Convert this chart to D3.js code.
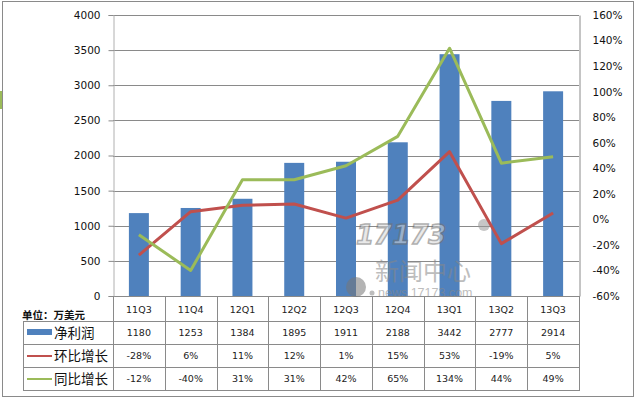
<!DOCTYPE html>
<html><head><meta charset="utf-8">
<script src="https://cdn.jsdelivr.net/npm/d3@7"></script>
<style>body{margin:0;background:#fff}svg{display:block}</style>
</head><body>
<svg id="c" width="637" height="399"></svg>
<script>
const categories = ["11Q3","11Q4","12Q1","12Q2","12Q3","12Q4","13Q1","13Q2","13Q3"];
const netProfit = [1180,1253,1384,1895,1911,2188,3442,2777,2914];
const qoq = [-28,6,11,12,1,15,53,-19,5];
const yoy = [-12,-40,31,31,42,65,134,44,49];
const leftTicks = [0,500,1000,1500,2000,2500,3000,3500,4000];
const rightTicks = [-60,-40,-20,0,20,40,60,80,100,120,140,160];
const seriesNames = ["净利润","环比增长","同比增长"];
const unitLabel = "单位：万美元";

const svg = d3.select("#c");
const L = 113, R = 579, T = 15, B = 296;
const num = "'DejaVu Sans', Verdana, sans-serif";
const cjk = "'Noto Sans CJK SC', sans-serif";
const grid = "#8a8a8a";

// outer border
svg.append("rect").attr("x",2.5).attr("y",1.5).attr("width",631).attr("height",395)
  .attr("fill","none").attr("stroke","#8a8a8a").attr("stroke-width",1);
svg.append("rect").attr("x",0).attr("y",91).attr("width",2).attr("height",18).attr("fill","#9bbb59");

const x = d3.scaleBand().domain(categories).range([L,R]).paddingInner(0.614).paddingOuter(0.307);
const xc = d3.scaleBand().domain(categories).range([L,R]);
const y = d3.scaleLinear().domain([0,4000]).range([B,T]);
const y2 = d3.scaleLinear().domain([-60,160]).range([B,T]);

// gridlines
svg.append("g").selectAll("line").data(leftTicks).join("line")
  .attr("x1",L).attr("x2",R).attr("y1",d=>Math.round(y(d))+0.5).attr("y2",d=>Math.round(y(d))+0.5)
  .attr("stroke",grid).attr("stroke-width",1);

// left axis
const ga = svg.append("g").attr("transform",`translate(${L+0.5},0)`)
  .call(d3.axisLeft(y).tickValues(leftTicks).tickSize(5).tickPadding(8).tickFormat(d3.format("d")));
ga.select(".domain").attr("stroke","#b0b0b0");
ga.selectAll(".tick line").attr("stroke",grid);
ga.selectAll("text").attr("font-family",num).attr("font-size","10.5px").attr("fill","#111");

// right axis labels
const gr = svg.append("g").attr("transform",`translate(${R+0.5},0)`)
  .call(d3.axisRight(y2).tickValues(rightTicks).tickSize(0).tickPadding(13).tickFormat(d=>d+"%"));
gr.select(".domain").attr("stroke",grid);
gr.selectAll("text").attr("font-family",num).attr("font-size","10.5px").attr("fill","#111");

// bars
svg.append("g").selectAll("rect").data(netProfit).join("rect")
  .attr("x",(d,i)=>x(categories[i])).attr("width",x.bandwidth())
  .attr("y",d=>y(d)).attr("height",d=>B-y(d)).attr("fill","#4f81bd");

// watermark
const wm = svg.append("g").attr("opacity",0.55);
wm.append("text").attr("x",356).attr("y",244).attr("font-family","'DejaVu Sans', sans-serif")
  .attr("font-weight","bold").attr("font-style","italic").attr("font-size","26px")
  .attr("fill","#d8d8d8").attr("stroke","#707070").attr("stroke-width",1.5).text("17173");
wm.append("circle").attr("cx",484).attr("cy",225).attr("r",6).attr("fill","#999");
wm.append("text").attr("x",375).attr("y",280).attr("font-family",cjk).attr("font-size","24px")
  .attr("fill","#888").text("新闻中心");
wm.append("circle").attr("cx",356).attr("cy",287).attr("r",10).attr("fill","#777");
wm.append("circle").attr("cx",372).attr("cy",293).attr("r",2.5).attr("fill","#888");
wm.append("text").attr("x",378).attr("y",297).attr("font-family","'Liberation Sans', Arial, sans-serif").attr("font-size","12.5px")
  .attr("fill","#888").text("news.17173.com");

// lines
const line = sc => d3.line().x((d,i)=>xc(categories[i])+xc.bandwidth()/2).y(d=>sc(d));
svg.append("path").datum(qoq).attr("d",line(y2)).attr("fill","none")
  .attr("stroke","#c0504d").attr("stroke-width",3).attr("stroke-linejoin","round");
svg.append("path").datum(yoy).attr("d",line(y2)).attr("fill","none")
  .attr("stroke","#9bbb59").attr("stroke-width",3).attr("stroke-linejoin","round");

// data table
const tl = 23;
const tg = svg.append("g").attr("stroke",grid).attr("stroke-width",1);
[321.5,344.5,367.5,390.5].forEach(yy=>{
  tg.append("line").attr("x1",tl).attr("x2",R).attr("y1",yy).attr("y2",yy);
});
tg.append("line").attr("x1",tl+0.5).attr("x2",tl+0.5).attr("y1",321).attr("y2",391);
xc.domain().forEach(c=>{
  const xv = Math.round(xc(c))+0.5;
  tg.append("line").attr("x1",xv).attr("x2",xv).attr("y1",B).attr("y2",391);
});
tg.append("line").attr("x1",R+0.5).attr("x2",R+0.5).attr("y1",B).attr("y2",391);

const cx = c => xc(c)+xc.bandwidth()/2;
const tt = svg.append("g").attr("font-family",num).attr("font-size","9.5px").attr("fill","#222").attr("text-anchor","middle");
categories.forEach((c,i)=>{
  tt.append("text").attr("x",cx(c)).attr("y",313).text(c);
  tt.append("text").attr("x",cx(c)).attr("y",336).text(netProfit[i]);
  tt.append("text").attr("x",cx(c)).attr("y",359).text(qoq[i]+"%");
  tt.append("text").attr("x",cx(c)).attr("y",382).text(yoy[i]+"%");
});

svg.append("text").attr("x",22).attr("y",319).attr("font-family",cjk).attr("font-weight","bold")
  .attr("font-size","10.5px").attr("fill","#111").text(unitLabel);

// legend keys
svg.append("rect").attr("x",27).attr("y",329).attr("width",25).attr("height",6).attr("fill","#4f81bd");
svg.append("line").attr("x1",27).attr("x2",52).attr("y1",356).attr("y2",356).attr("stroke","#c0504d").attr("stroke-width",2);
svg.append("line").attr("x1",27).attr("x2",52).attr("y1",379).attr("y2",379).attr("stroke","#9bbb59").attr("stroke-width",2);
const lt = svg.append("g").attr("font-family",cjk).attr("font-size","13.5px").attr("fill","#111");
seriesNames.forEach((s,i)=>{
  lt.append("text").attr("x",54).attr("y",[338,361,384][i]).text(s);
});
</script>
</body></html>
